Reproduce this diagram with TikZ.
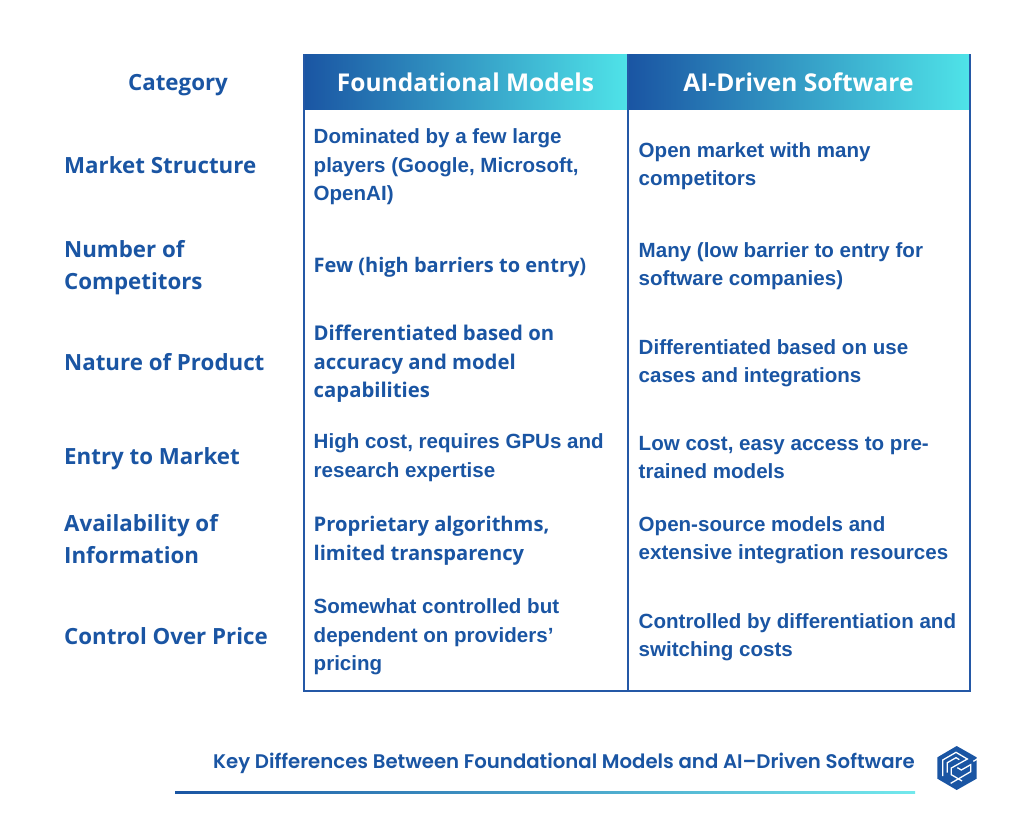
\documentclass[tikz,border=0pt]{standalone}
\usepackage{fontspec}
\setmainfont{Liberation Sans}
\newfontfamily\labelfont{Open Sans}
\newfontfamily\headfont{Open Sans}
\newfontfamily\frankfont{Open Sans}
\newfontfamily\footfont{Poppins SemiBold}
\definecolor{navy}{HTML}{1A55A3}
\definecolor{cyanend}{HTML}{4FE3E8}
\definecolor{rulecol}{HTML}{2458A6}
\tikzset{
 celltext/.style={anchor=west,align=left,text=navy,inner sep=0pt,font=\fontsize{20.55}{28.5}\selectfont\bfseries},
 altcell/.style={anchor=west,align=left,text=navy,inner sep=0pt,font=\frankfont\fontsize{#1}{28.5}\selectfont\bfseries},
 rowlabel/.style={anchor=west,align=left,text=navy,inner sep=0pt,font=\labelfont\fontsize{22.3}{32}\selectfont\bfseries},
 headtext/.style={anchor=center,text=white,inner sep=0pt,font=\headfont\fontsize{24.5}{28}\selectfont\bfseries},
 headfill/.style={left color=navy,right color=cyanend,draw=none},
 tablerule/.style={draw=rulecol,line width=2pt},
 logoline/.style={white,line width=1.3pt,line join=miter},
}
\begin{document}
\begin{tikzpicture}[x=1pt,y=-1pt]
\useasboundingbox (0,0) rectangle (1024,835);
\shade[headfill] (303,54) rectangle (627.5,109.5);
\shade[headfill] (628.5,54) rectangle (969,109.5);
\draw[tablerule] (303.5,54) -- (303.5,690.5) -- (969.5,690.5) -- (969.5,54);
\draw[tablerule] (628,54) -- (628,690.5);
\node[rowlabel,anchor=center] (hcat) at (178,85) {Category};
\node[headtext] (hfm) at (465.5,82) {Foundational Models};
\node[headtext] (hai) at (798.5,82) {AI-Driven Software};
\node[rowlabel] (l1) at (64,165) {Market Structure};
\node[rowlabel] (l2) at (64,268) {Number of\\Competitors};
\node[rowlabel] (l3) at (64,362) {Nature of Product};
\node[rowlabel] (l4) at (64,459) {Entry to Market};
\node[rowlabel] (l5) at (64,539) {Availability of\\Information};
\node[rowlabel] (l6) at (64,636) {Control Over Price};
\node[celltext] (a1) at (313.5,167) {Dominated by a few large\\players (Google, Microsoft,\\OpenAI)};
\node[altcell=20] (a2) at (313.5,267) {Few (high barriers to entry)};
\node[altcell=20.3] (a3) at (313.5,364) {Differentiated based on\\accuracy and model\\capabilities};
\node[celltext] (a4) at (313.5,457.5) {High cost, requires GPUs and\\research expertise};
\node[altcell=20.15] (a5) at (313.5,541) {Proprietary algorithms,\\limited transparency};
\node[celltext] (a6) at (313.5,637) {Somewhat controlled but\\dependent on providers’\\pricing};
\node[celltext] (b1) at (638.5,166.3) {Open market with many\\competitors};
\node[celltext] (b2) at (638.5,266.3) {Many (low barrier to entry for\\software companies)};
\node[celltext] (b3) at (638.5,363.3) {Differentiated based on use\\cases and integrations};
\node[celltext] (b4) at (638.5,457.3) {Low cost, easy access to pre-\\trained models};
\node[celltext] (b5) at (638.5,540.3) {Open-source models and\\extensive integration resources};
\node[celltext] (b6) at (638.5,637) {Controlled by differentiation and\\switching costs};
\node[anchor=east,inner sep=0pt,text=navy,font=\footfont\fontsize{19.7}{22}\selectfont] (foot) at (915,763.5) {Key Differences Between Foundational Models and AI–Driven Software};
\shade[left color=navy,right color=cyanend!80!white] (175,791.5) rectangle (915,793.5);
% logo
\begin{scope}[shift={(920,730)},x=0.3333pt,y=-0.3333pt]
\fill[navy] (110,48) -- (170,82) -- (170,146) -- (110,180) -- (52,146) -- (52,82) -- cycle;
\draw[logoline] (68,138) -- (68,90) -- (108,67) -- (142,87) -- (94,114) -- (94,134) -- (126,153);
\draw[logoline] (82,128) -- (82,98) -- (108,83) -- (118,89);
\draw[logoline] (92,160) -- (152,125) -- (152,104) -- (124,120) -- (112,113);
\draw[logoline] (160,94) -- (172,87);
\end{scope}
\end{tikzpicture}
\end{document}
